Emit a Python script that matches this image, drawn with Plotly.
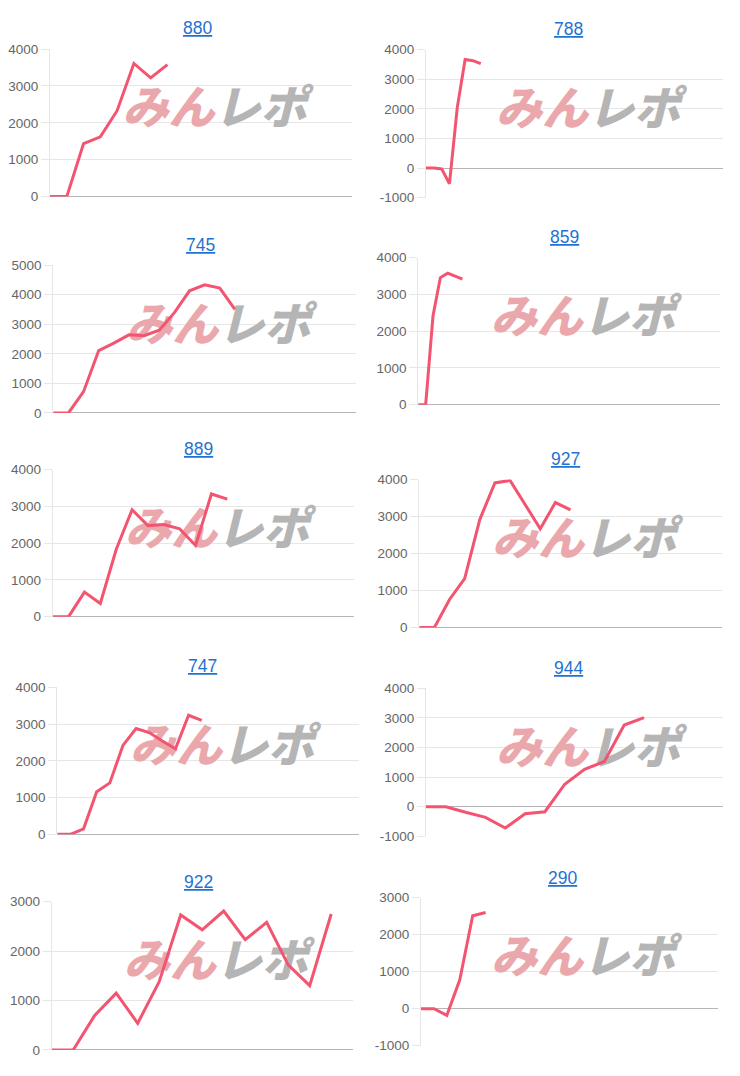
import plotly.graph_objects as go

W, H = 740, 1076

# ---- data ----
titles = ["880", "788", "745", "859", "889", "927", "747", "944", "922", "290"]

v880 = [0, 0, 1440, 1620, 2330, 3610, 3220, 3580]
v788 = [0, 0, -30, -530, 2050, 3670, 3630, 3530]
v745 = [0, 0, 720, 2110, 2360, 2640, 2610, 2800, 3390, 4130, 4330, 4220, 3500]
v859 = [0, 0, 2420, 3460, 3580, 3500, 3420]
v889 = [0, 0, 670, 360, 1830, 2910, 2480, 2510, 2390, 1940, 3340, 3200]
v927 = [0, 0, 760, 1320, 2920, 3910, 3980, 3320, 2670, 3380, 3180]
v747 = [0, 0, 150, 1160, 1400, 2420, 2880, 2770, 2540, 2330, 3240, 3100]
v944 = [0, 0, -190, -360, -720, -240, -170, 760, 1260, 1530, 2760, 3010]
v922 = [0, 0, 700, 1150, 540, 1380, 2730, 2430, 2810, 2230, 2580, 1720, 1300, 2750]
v290 = [0, 0, -180, 780, 2510, 2600]
series = [v880, v788, v745, v859, v889, v927, v747, v944, v922, v290]

# number of x slots (category intervals) on each chart
x_slots = [18, 38, 20, 41, 19, 20, 23, 15, 14, 23]

# y tick values / labels per chart
y_ticks = [
    [0, 1000, 2000, 3000, 4000],
    [-1000, 0, 1000, 2000, 3000, 4000],
    [0, 1000, 2000, 3000, 4000, 5000],
    [0, 1000, 2000, 3000, 4000],
    [0, 1000, 2000, 3000, 4000],
    [0, 1000, 2000, 3000, 4000],
    [0, 1000, 2000, 3000, 4000],
    [-1000, 0, 1000, 2000, 3000, 4000],
    [0, 1000, 2000, 3000],
    [-1000, 0, 1000, 2000, 3000],
]
y_tick_labels = [[str(v) for v in t] for t in y_ticks]

# ---- layout geometry (page pixels): plot area left, right, top, bottom ----
boxes = [
    (50.0, 352.0, 42.7, 192.3),
    (426.0, 723.3, 43.3, 193.3),
    (53.3, 356.0, 261.7, 411.7),
    (418.3, 720.0, 254.3, 403.3),
    (52.7, 354.3, 469.3, 618.3),
    (419.3, 721.7, 479.3, 629.3),
    (57.3, 359.3, 690.0, 839.0),
    (426.0, 723.3, 691.0, 841.0),
    (51.7, 352.7, 907.3, 1057.7),
    (421.0, 718.3, 903.3, 1053.3),
]
title_pos = [
    (197, 21), (568, 22), (200, 241), (564, 233), (198, 448),
    (565, 458), (203, 668), (568, 670), (198, 887), (562, 883),
]

LINE = "#f35470"
GRID = "#e6e6e6"
ZERO = "#b5b5b5"
TICKC = "#666666"
TITLEC = "#1f72d0"
PINK = "#eaa8ad"
GRAY = "#b5b5b5"
FONT = "Liberation Sans, Arial, sans-serif"


def px(xp):
    return xp / W


def py(yp):
    return 1 - yp / H


fig = go.Figure()
annotations = []
layout_axes = {}

for i in range(10):
    n = i + 1
    xa = "x" if n == 1 else f"x{n}"
    ya = "y" if n == 1 else f"y{n}"
    l, r, t, b = boxes[i]
    ymin, ymax = y_ticks[i][0], y_ticks[i][-1]
    N = x_slots[i]

    # watermark (drawn first so the line sits above it)
    fig.add_trace(go.Scatter(
        x=[N * 0.545], y=[ymin + (ymax - ymin) * 0.567],
        xaxis=xa, yaxis=ya, mode="text",
        text=[f"<span style='color:{PINK}'>みん</span><span style='color:{GRAY}'>レポ</span>"],
        textposition="middle center",
        textfont=dict(family="Noto Sans CJK JP", size=46, weight=900, style="italic"),
        cliponaxis=False, hoverinfo="skip", showlegend=False,
    ))

    vals = series[i]
    fig.add_trace(go.Scatter(
        x=list(range(len(vals))), y=vals, xaxis=xa, yaxis=ya,
        mode="lines", line=dict(color=LINE, width=3),
        showlegend=False, hoverinfo="skip",
    ))

    xkey = "xaxis" if n == 1 else f"xaxis{n}"
    ykey = "yaxis" if n == 1 else f"yaxis{n}"
    layout_axes[xkey] = dict(
        domain=[px(l), px(r)], range=[0, N], anchor=ya,
        showgrid=False, zeroline=False, showline=False,
        showticklabels=False, ticks="", fixedrange=True,
    )
    layout_axes[ykey] = dict(
        domain=[py(b), py(t)], range=[ymin, ymax], anchor=xa,
        tickvals=y_ticks[i], ticktext=y_tick_labels[i],
        showgrid=True, gridcolor=GRID, gridwidth=1,
        zeroline=True, zerolinecolor=ZERO, zerolinewidth=1,
        showline=True, linecolor=GRID, linewidth=1,
        ticks="outside", ticklen=8, tickcolor=GRID,
        tickfont=dict(family=FONT, size=13.5, color=TICKC),
        fixedrange=True,
    )

    tx, ty = title_pos[i]
    annotations.append(dict(
        x=px(tx), y=py(ty), xref="paper", yref="paper",
        xanchor="center", yanchor="middle", showarrow=False,
        text=f"<u>{titles[i]}</u>",
        font=dict(family=FONT, size=17.5, color=TITLEC),
    ))

fig.update_layout(
    width=W, height=H, margin=dict(l=0, r=0, t=0, b=0),
    paper_bgcolor="white", plot_bgcolor="white",
    showlegend=False, annotations=annotations,
    **layout_axes,
)

# remove the default page margin so the figure sits at the page origin
fig.write_html(
    "out.html",
    config={"displayModeBar": False},
    post_script="document.body.style.margin='0';",
)
